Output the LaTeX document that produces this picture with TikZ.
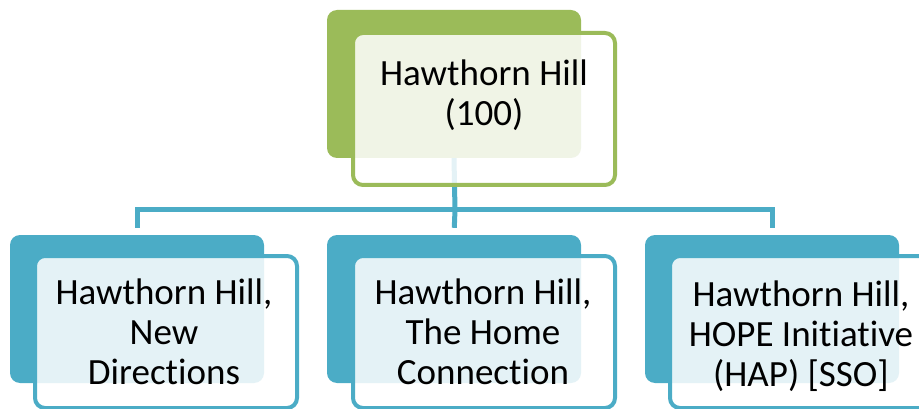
\documentclass[tikz,border=0pt]{standalone}
\usepackage{fontspec}
\setmainfont{Carlito}[RawFeature=-liga]
\definecolor{hillgreen}{HTML}{9BBB59}
\definecolor{hillblue}{HTML}{4BACC6}
\begin{document}
\begin{tikzpicture}[x=1pt,y=-1pt,
    back/.style={fill=#1, rounded corners=10pt, minimum width=254pt, minimum height=148pt, inner sep=0pt},
    front/.style={draw=#1, line width=4pt, fill=white, fill opacity=0.85, rounded corners=10pt, minimum width=262pt, minimum height=152pt, inner sep=0pt},
    words/.style={align=center, font=\fontsize{37}{40}\selectfont, text=black, inner sep=0pt},
    link/.style={draw=hillblue, line width=5pt}]
    \useasboundingbox (0,0) rectangle (919,409);
    \node[back=hillgreen] (topback) at (454,84) {};
    \node[back=hillblue] (leftback) at (137,309) {};
    \node[back=hillblue] (midback) at (454,309) {};
    \node[back=hillblue] (rightback) at (772,309) {};
    \coordinate (bar) at (455,210);
    \draw[link] (topback.south) -- (bar);
    \draw[link, shorten >=7pt] (bar) -| (leftback.north);
    \draw[link, shorten >=7pt] (bar) -- (midback.north);
    \draw[link, shorten >=7pt] (bar) -| (rightback.north);
    \node[front=hillgreen] (top) at (484,109) {};
    \node[front=hillblue] (left) at (166,332) {};
    \node[front=hillblue] (mid) at (484,332) {};
    \node[front=hillblue] (right) at (801,332) {};
    \node[words] (toptext) at (484,95) {Hawthorn Hill\\(100)};
    \node[words] (lefttext) at (164,332) {Hawthorn Hill,\\New\\Directions};
    \node[words] (midtext) at (483,332) {Hawthorn Hill,\\The Home\\Connection};
    \node[words] (righttext) at (801,336) {Hawthorn Hill,\\HOPE Initiative\\(HAP) [SSO]};
\end{tikzpicture}
\end{document}
